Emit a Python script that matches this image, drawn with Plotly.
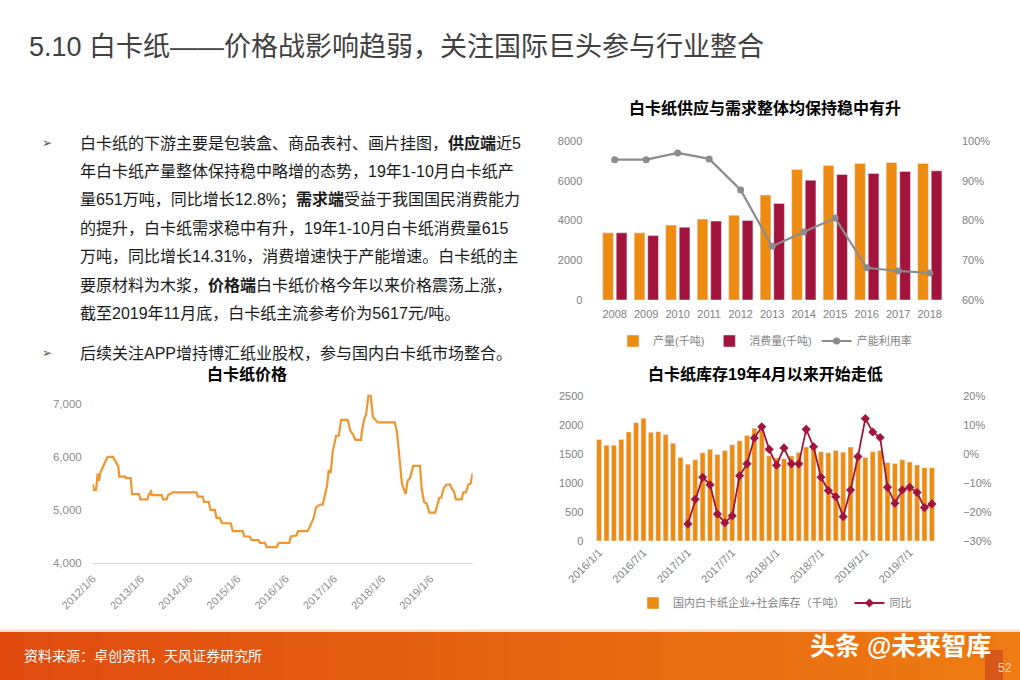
import plotly.graph_objects as go

W, H = 1020, 680


def px(x):
    return x / W


def py(y):
    return 1 - y / H


# ---------------- data ----------------
# Chart 1: supply & demand
years = ["2008", "2009", "2010", "2011", "2012", "2013", "2014", "2015", "2016", "2017", "2018"]
production = [3380, 3380, 3770, 4070, 4270, 5280, 6570, 6770, 6870, 6920, 6870]
consumption = [3380, 3240, 3660, 3970, 4000, 4860, 6030, 6320, 6370, 6470, 6500]
utilization = [0.953, 0.953, 0.970, 0.955, 0.877, 0.735, 0.771, 0.806, 0.681, 0.673, 0.668]

# Chart 2: inventory
months = [
    "2016/1/1", "2016/2/1", "2016/3/1", "2016/4/1", "2016/5/1", "2016/6/1",
    "2016/7/1", "2016/8/1", "2016/9/1", "2016/10/1", "2016/11/1", "2016/12/1",
    "2017/1/1", "2017/2/1", "2017/3/1", "2017/4/1", "2017/5/1", "2017/6/1",
    "2017/7/1", "2017/8/1", "2017/9/1", "2017/10/1", "2017/11/1", "2017/12/1",
    "2018/1/1", "2018/2/1", "2018/3/1", "2018/4/1", "2018/5/1", "2018/6/1",
    "2018/7/1", "2018/8/1", "2018/9/1", "2018/10/1", "2018/11/1", "2018/12/1",
    "2019/1/1", "2019/2/1", "2019/3/1", "2019/4/1", "2019/5/1", "2019/6/1",
    "2019/7/1", "2019/8/1", "2019/9/1", "2019/10/1",
]
inventory = [
    1750, 1650, 1650, 1750, 1880, 2040, 2115, 1875, 1885, 1835, 1685, 1440,
    1325, 1400, 1520, 1580, 1490, 1560, 1660, 1730, 1820, 1945, 1900, 1470,
    1430, 1420, 1465, 1525, 1620, 1620, 1540, 1520, 1560, 1530, 1620, 1455,
    1440, 1540, 1560, 1350, 1335, 1400, 1360, 1310, 1265, 1265,
]
yoy_months = months[12:]
yoy = [
    -0.241, -0.156, -0.080, -0.106, -0.207, -0.237, -0.213, -0.075, -0.034, 0.055, 0.094, 0.016,
    -0.039, 0.021, -0.034, -0.034, 0.085, 0.025, -0.080, -0.126, -0.147, -0.216, -0.124, -0.009,
    0.122, 0.076, 0.057, -0.115, -0.170, -0.124, -0.115, -0.133, -0.185, -0.172,
]
inv_ticks = ["2016/1/1", "2016/7/1", "2017/1/1", "2017/7/1", "2018/1/1", "2018/7/1", "2019/1/1", "2019/7/1"]

# Chart 3: price
price_dates = [
    "2012-01-06", "2012-01-16", "2012-01-31", "2012-02-13", "2012-02-23", "2012-03-04",
    "2012-03-26", "2012-04-10", "2012-04-28", "2012-06-08", "2012-06-23", "2012-07-08",
    "2012-07-18", "2012-07-25", "2012-09-10", "2012-09-15", "2012-10-20", "2012-10-30",
    "2012-12-22", "2013-01-01", "2013-02-24", "2013-03-06", "2013-03-17", "2013-03-22",
    "2013-03-27", "2013-06-11", "2013-06-21", "2013-07-18", "2013-07-31", "2013-08-18",
    "2013-08-31", "2014-03-02", "2014-03-12", "2014-04-17", "2014-04-29", "2014-06-03",
    "2014-06-16", "2014-07-19", "2014-07-31", "2014-08-26", "2014-09-11", "2014-11-16",
    "2014-12-01", "2015-02-15", "2015-02-27", "2015-04-10", "2015-04-23", "2015-06-15",
    "2015-06-25", "2015-08-02", "2015-08-15", "2015-10-30", "2015-11-14", "2016-02-03",
    "2016-02-14", "2016-03-29", "2016-04-08", "2016-06-21", "2016-07-15", "2016-08-05",
    "2016-08-23", "2016-09-22", "2016-10-12", "2016-11-01", "2016-11-14", "2016-11-27",
    "2016-12-12", "2016-12-27", "2017-01-22", "2017-02-11", "2017-03-01", "2017-04-19",
    "2017-05-09", "2017-05-31", "2017-06-16", "2017-07-29", "2017-08-06", "2017-08-23",
    "2017-09-06", "2017-09-23", "2017-10-11", "2017-10-28", "2017-12-03", "2018-04-12",
    "2018-04-27", "2018-05-20", "2018-06-04", "2018-07-02", "2018-07-17", "2018-08-04",
    "2018-08-29", "2018-10-19", "2018-11-01", "2018-11-19", "2018-12-09", "2018-12-29",
    "2019-02-11", "2019-02-23", "2019-03-14", "2019-03-29", "2019-04-18", "2019-05-08",
    "2019-06-03", "2019-06-18", "2019-07-03", "2019-07-18", "2019-08-30", "2019-09-12",
    "2019-10-02", "2019-10-20", "2019-11-07", "2019-11-22",
]
price = [
    5490, 5380, 5380, 5690, 5550, 5700,
    5830, 5900, 6000, 6000, 5940, 5880,
    5820, 5630, 5630, 5600, 5600, 5300,
    5300, 5200, 5200, 5300, 5300, 5380,
    5280, 5280, 5200, 5200, 5290, 5300,
    5330, 5330, 5250, 5250, 5150, 5150,
    5000, 5000, 4850, 4850, 4750, 4750,
    4600, 4600, 4500, 4500, 4430, 4430,
    4380, 4380, 4300, 4300, 4380, 4380,
    4500, 4520, 4600, 4600, 4720, 4850,
    5050, 5100, 5100, 5350, 5450, 5750,
    5700, 6100, 6400, 6400, 6700, 6700,
    6500, 6420, 6320, 6320, 6500, 6720,
    6800, 7150, 7150, 6750, 6650, 6650,
    6480, 5900, 5500, 5300, 5550, 5600,
    5830, 5830, 5400, 5150, 5120, 4950,
    4950, 5050, 5230, 5230, 5420, 5480,
    5480, 5400, 5350, 5200, 5200, 5330,
    5330, 5480, 5500, 5700,
]
price_tickvals = ["2012-01-06", "2013-01-06", "2014-01-06", "2015-01-06",
                  "2016-01-06", "2017-01-06", "2018-01-06", "2019-01-06"]
price_ticktext = ["2012/1/6", "2013/1/6", "2014/1/6", "2015/1/6",
                  "2016/1/6", "2017/1/6", "2018/1/6", "2019/1/6"]

# text
title_text = "5.10 白卡纸——价格战影响趋弱，关注国际巨头参与行业整合"
body_lines = [
    "白卡纸的下游主要是包装盒、商品表衬、画片挂图，<b>供应端</b>近5",
    "年白卡纸产量整体保持稳中略增的态势，19年1-10月白卡纸产",
    "量651万吨，同比增长12.8%；<b>需求端</b>受益于我国国民消费能力",
    "的提升，白卡纸需求稳中有升，19年1-10月白卡纸消费量615",
    "万吨，同比增长14.31%，消费增速快于产能增速。白卡纸的主",
    "要原材料为木浆，<b>价格端</b>白卡纸价格今年以来价格震荡上涨，",
    "截至2019年11月底，白卡纸主流参考价为5617元/吨。",
    "后续关注APP增持博汇纸业股权，参与国内白卡纸市场整合。",
]
body_y = [143.3, 171.7, 200, 228.3, 256.7, 285, 313.3, 353.3]

# ---------------- styling ----------------
FONT = "Liberation Sans, Arial, Noto Sans CJK SC, sans-serif"
ORANGE = "#EE8C12"
CRIMSON = "#A3143C"
GRAY = "#8C8C8C"
TICK = dict(family=FONT, size=11, color="#7F7F7F")

fig = go.Figure()

# Chart 1
fig.add_trace(go.Bar(x=years, y=production, name="产量(千吨)", marker_color=ORANGE,
                     width=0.34, offset=-0.38, xaxis="x", yaxis="y", legend="legend"))
fig.add_trace(go.Bar(x=years, y=consumption, name="消费量(千吨)", marker_color=CRIMSON,
                     width=0.34, offset=0.05, xaxis="x", yaxis="y", legend="legend"))
fig.add_trace(go.Scatter(x=years, y=utilization, name="产能利用率", mode="lines+markers",
                         line=dict(color=GRAY, width=2.2), marker=dict(color=GRAY, size=7),
                         xaxis="x", yaxis="y2", legend="legend"))

# Chart 2
fig.add_trace(go.Bar(x=months, y=inventory, name="国内白卡纸企业+社会库存（千吨）",
                     marker_color=ORANGE, width=0.68, xaxis="x2", yaxis="y3", legend="legend2"))
fig.add_trace(go.Scatter(x=yoy_months, y=yoy, name="同比", mode="lines+markers",
                         line=dict(color=CRIMSON, width=1.8),
                         marker=dict(symbol="diamond", color=CRIMSON, size=7),
                         xaxis="x2", yaxis="y4", legend="legend2"))

# Chart 3
fig.add_trace(go.Scatter(x=price_dates, y=price, mode="lines", showlegend=False,
                         line=dict(color="#F0962E", width=2.2), xaxis="x3", yaxis="y5"))

common_axis = dict(showgrid=False, zeroline=False, showline=False, ticks="", tickfont=TICK,
                   automargin=False)

fig.update_layout(
    width=W, height=H, margin=dict(l=0, r=0, t=0, b=0, autoexpand=False),
    paper_bgcolor="white", plot_bgcolor="rgba(0,0,0,0)",
    font=dict(family=FONT),
    xaxis=dict(domain=[px(592.3), px(952)], anchor="y", type="category",
               ticklabelstandoff=6, **common_axis),
    yaxis=dict(domain=[py(300), py(141)], anchor="x", range=[0, 8000], dtick=2000,
               ticklabelstandoff=9, **common_axis),
    yaxis2=dict(overlaying="y", anchor="x", side="right", range=[0.6, 1.0], dtick=0.1,
                tickformat=".0%", ticklabelstandoff=9, **common_axis),
    xaxis2=dict(domain=[px(595.4), px(954.2)], anchor="y3", type="category",
                tickmode="array", tickvals=inv_ticks, ticktext=inv_ticks, tickangle=-45,
                ticklabelstandoff=2, **common_axis),
    yaxis3=dict(domain=[py(541), py(396)], anchor="x2", range=[0, 2500], dtick=500,
                ticklabelstandoff=11, **common_axis),
    yaxis4=dict(overlaying="y3", anchor="x2", side="right", range=[-0.3, 0.2], dtick=0.1,
                tickformat=".0%", ticklabelstandoff=8, **common_axis),
    xaxis3=dict(domain=[px(92.7), px(472.7)], anchor="y5", type="date",
                range=["2012-01-06", "2019-11-22"], tickmode="array",
                tickvals=price_tickvals, ticktext=price_ticktext, tickangle=-45,
                showgrid=False, zeroline=False, showline=True, linecolor="#D9D9D9",
                linewidth=1.2, ticks="", ticklabelstandoff=4, automargin=False,
                tickfont=dict(family=FONT, size=11, color="#8C8C8C")),
    yaxis5=dict(domain=[py(563), py(388)], anchor="x3", range=[4000, 7300],
                tickmode="array", tickvals=[4000, 5000, 6000, 7000],
                ticktext=["4,000", "5,000", "6,000", "7,000"], ticklabelstandoff=10,
                showgrid=False, zeroline=False, showline=False, ticks="", automargin=False,
                tickfont=dict(family=FONT, size=11.5, color="#8C8C8C")),
    legend=dict(orientation="h", x=px(765), y=py(341), xanchor="center", yanchor="middle",
                font=dict(family=FONT, size=11, color="#7F7F7F"), bgcolor="rgba(0,0,0,0)",
                itemwidth=30, tracegroupgap=0),
    legend2=dict(orientation="h", x=px(775), y=py(603), xanchor="center", yanchor="middle",
                 font=dict(family=FONT, size=11, color="#7F7F7F"), bgcolor="rgba(0,0,0,0)",
                 itemwidth=30),
)

shapes = []
# footer gradient strips
c0 = (0xE0, 0x4C, 0x10)
c1 = (0xEE, 0x7C, 0x12)
n = 40
for i in range(n):
    t = i / (n - 1)
    col = "rgb(%d,%d,%d)" % tuple(int(c0[k] + (c1[k] - c0[k]) * t) for k in range(3))
    shapes.append(dict(type="rect", xref="paper", yref="paper",
                       x0=i / n, x1=min(1, (i + 1) / n + 0.002), y0=0, y1=py(632),
                       fillcolor=col, line=dict(width=0), layer="below"))
shapes.append(dict(type="rect", xref="paper", yref="paper", x0=0, x1=1,
                   y0=py(632), y1=py(629.5), fillcolor="#F6DCCB", line=dict(width=0), layer="below"))
shapes.append(dict(type="rect", xref="paper", yref="paper", x0=px(985), x1=px(1003),
                   y0=0, y1=py(650), fillcolor="#D9561A", line=dict(width=0), layer="below"))
fig.update_layout(shapes=shapes)

ann = []
ann.append(dict(text=title_text, x=px(27), y=py(47), xref="paper", yref="paper",
                xanchor="left", yanchor="middle", showarrow=False,
                font=dict(family=FONT, size=27, color="#404040")))
for line, yy in zip(body_lines, body_y):
    ann.append(dict(text=line, x=px(78), y=py(yy), xref="paper", yref="paper",
                    xanchor="left", yanchor="middle", showarrow=False,
                    font=dict(family=FONT, size=16, color="#1A1A1A")))
for yy in (body_y[0], body_y[-1]):
    ann.append(dict(text="➢", x=px(47), y=py(yy), xref="paper", yref="paper",
                    xanchor="center", yanchor="middle", showarrow=False,
                    font=dict(family="DejaVu Sans", size=12, color="#555555")))
for txt, xx, yy in [("白卡纸供应与需求整体均保持稳中有升", 765, 108),
                    ("白卡纸库存19年4月以来开始走低", 765, 374),
                    ("白卡纸价格", 247, 374)]:
    ann.append(dict(text="<b>%s</b>" % txt, x=px(xx), y=py(yy), xref="paper", yref="paper",
                    xanchor="center", yanchor="middle", showarrow=False,
                    font=dict(family=FONT, size=16, color="#000000")))
ann.append(dict(text="资料来源：卓创资讯，天风证券研究所", x=px(22), y=py(656), xref="paper",
                yref="paper", xanchor="left", yanchor="middle", showarrow=False,
                font=dict(family=FONT, size=14, color="#FFFFFF")))
ann.append(dict(text="52", x=px(1005), y=py(668), xref="paper", yref="paper",
                xanchor="center", yanchor="middle", showarrow=False,
                font=dict(family=FONT, size=12, color="#F5D5C0")))
ann.append(dict(text="<b>头条 @未来智库</b>", x=px(900), y=py(646), xref="paper", yref="paper",
                xanchor="center", yanchor="middle", showarrow=False,
                font=dict(family=FONT, size=25, color="#FFFFFF")))
fig.update_layout(annotations=ann)

fig.write_html("out.html")
